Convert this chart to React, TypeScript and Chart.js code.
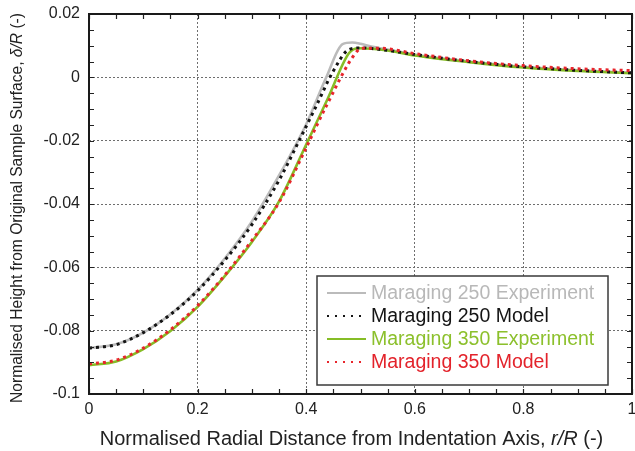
import React, { useEffect, useRef } from 'react';
import { Chart, registerables } from 'chart.js';

Chart.register(...registerables);

const FONT = "'Liberation Sans', Arial, Helvetica, sans-serif";

// Axis ticks
const xMajorStep = 0.2;
const yMajorStep = 0.02;
const xMinorStep = 0.05;
const yMinorStep = 0.005;

// Series data
const m250ExpX = [0, 0.05, 0.1, 0.15, 0.2, 0.25, 0.3, 0.35, 0.4, 0.437, 0.467, 0.485, 0.5, 0.52, 0.55, 0.6, 0.65, 0.7, 0.8, 0.9, 1.0];
const m250ExpY = [-0.0855, -0.0843, -0.0806, -0.0748, -0.0671, -0.0572, -0.0455, -0.031, -0.0148, 0.0, 0.0105, 0.011, 0.0106, 0.0097, 0.0088, 0.0072, 0.006, 0.005, 0.0033, 0.0022, 0.0014];

const m250ModX = [0, 0.05, 0.1, 0.15, 0.2, 0.25, 0.3, 0.35, 0.387, 0.42, 0.448, 0.479, 0.5, 0.55, 0.6, 0.7, 0.8, 0.9, 1.0];
const m250ModY = [-0.0855, -0.0844, -0.0806, -0.0749, -0.0674, -0.0578, -0.0465, -0.0325, -0.02, -0.0085, 0.0014, 0.0088, 0.0093, 0.0085, 0.0072, 0.005, 0.0033, 0.0022, 0.0014];

const m350ExpX = [0, 0.05, 0.1, 0.15, 0.2, 0.25, 0.3, 0.35, 0.4, 0.44, 0.479, 0.497, 0.55, 0.6, 0.7, 0.8, 0.9, 1.0];
const m350ExpY = [-0.0909, -0.0897, -0.0858, -0.0801, -0.0725, -0.0628, -0.052, -0.0392, -0.0212, -0.0066, 0.0077, 0.0092, 0.0085, 0.0069, 0.0048, 0.0031, 0.002, 0.0013];

const m350ModX = [0, 0.05, 0.1, 0.15, 0.2, 0.25, 0.3, 0.35, 0.4, 0.436, 0.491, 0.503, 0.534, 0.6, 0.7, 0.8, 0.9, 1.0];
const m350ModY = [-0.0905, -0.0893, -0.0855, -0.0797, -0.0721, -0.0625, -0.0515, -0.0395, -0.0222, -0.0094, 0.0077, 0.0092, 0.0092, 0.0075, 0.0052, 0.0037, 0.0027, 0.0021];

const seriesLabels = [
  'Maraging 250 Experiment',
  'Maraging 250 Model',
  'Maraging 350 Experiment',
  'Maraging 350 Model',
];
const seriesColors = ['#bbbbbb', '#141414', '#86bd26', '#e8262c'];
const legendTextColors = ['#b8b8b8', '#141414', '#8cc02c', '#e3232b'];

const xTitleParts: [string, boolean][] = [
  ['Normalised Radial Distance from Indentation Axis, ', false],
  ['r/R', true],
  [' (-)', false],
];
const yTitleParts: [string, boolean][] = [
  ['Normalised Height from Original Sample Surface, ', false],
  ['\u03b4/R', true],
  [' (-)', false],
];

function toPoints(xs: number[], ys: number[]) {
  return xs.map((x, i) => ({ x, y: ys[i] }));
}

function drawMixed(ctx: CanvasRenderingContext2D, parts: [string, boolean][], size: number, cx: number, cy: number) {
  const fonts = parts.map(([, it]) => `${it ? 'italic ' : ''}${size}px ${FONT}`);
  let total = 0;
  const widths = parts.map(([t], i) => {
    ctx.font = fonts[i];
    const w = ctx.measureText(t).width;
    total += w;
    return w;
  });
  let x = cx - total / 2;
  ctx.textAlign = 'left';
  ctx.textBaseline = 'middle';
  parts.forEach(([t], i) => {
    ctx.font = fonts[i];
    ctx.fillText(t, x, cy);
    x += widths[i];
  });
}

const decorPlugin = {
  id: 'decor',
  afterDraw(chart: any) {
    const { ctx, chartArea, scales } = chart;
    const { left, right, top, bottom } = chartArea;
    const xs = scales.x;
    const ys = scales.y;
    ctx.save();

    // minor / major inward ticks on all sides
    ctx.strokeStyle = '#222';
    ctx.lineWidth = 1.2;
    ctx.beginPath();
    const nX = Math.round((xs.max - xs.min) / xMinorStep);
    for (let i = 0; i <= nX; i++) {
      const px = Math.round(xs.getPixelForValue(xs.min + i * xMinorStep)) + 0.5;
      ctx.moveTo(px, bottom);
      ctx.lineTo(px, bottom - 5);
      ctx.moveTo(px, top);
      ctx.lineTo(px, top + 5);
    }
    const nY = Math.round((ys.max - ys.min) / yMinorStep);
    for (let i = 0; i <= nY; i++) {
      const py = Math.round(ys.getPixelForValue(ys.min + i * yMinorStep)) + 0.5;
      ctx.moveTo(left, py);
      ctx.lineTo(left + 5, py);
      ctx.moveTo(right, py);
      ctx.lineTo(right - 5, py);
    }
    ctx.stroke();

    // frame
    ctx.strokeStyle = '#1a1a1a';
    ctx.lineWidth = 2;
    ctx.strokeRect(left, top, right - left, bottom - top);

    // legend
    const bx = 317, by = 276, bw = 291, bh = 109;
    ctx.fillStyle = '#ffffff';
    ctx.fillRect(bx, by, bw, bh);
    ctx.strokeStyle = '#3a3a3a';
    ctx.lineWidth = 1.5;
    ctx.strokeRect(bx, by, bw, bh);
    const rowYs = [293, 316, 339, 362];
    chart.data.datasets.forEach((ds: any, i: number) => {
      const yy = rowYs[i];
      ctx.save();
      ctx.strokeStyle = ds.borderColor;
      if (ds.borderDash && ds.borderDash.length) {
        ctx.lineWidth = 2.2;
        ctx.setLineDash([2, 6]);
      } else {
        ctx.lineWidth = 2;
        ctx.setLineDash([]);
      }
      ctx.beginPath();
      ctx.moveTo(327, yy);
      ctx.lineTo(366, yy);
      ctx.stroke();
      ctx.restore();
      ctx.fillStyle = legendTextColors[i];
      ctx.font = `19.5px ${FONT}`;
      ctx.textAlign = 'left';
      ctx.textBaseline = 'middle';
      ctx.fillText(ds.label, 371, yy + 1);
    });

    // axis titles
    ctx.fillStyle = '#222';
    drawMixed(ctx, xTitleParts, 20, (left + right) / 2 - 9, 439);
    ctx.save();
    ctx.translate(18, 208);
    ctx.rotate(-Math.PI / 2);
    drawMixed(ctx, yTitleParts, 15.6, 0, 0);
    ctx.restore();

    ctx.restore();
  },
};

function fmt(v: number) {
  const n = parseFloat(Number(v).toFixed(3));
  return Math.abs(n) < 1e-9 ? '0' : String(n);
}

export default function App() {
  const ref = useRef<HTMLCanvasElement | null>(null);
  useEffect(() => {
    if (!ref.current) return;
    const dashed = [3, 4];
    const chart = new Chart(ref.current, {
      type: 'line',
      data: {
        datasets: [
          {
            label: seriesLabels[0],
            data: toPoints(m250ExpX, m250ExpY),
            borderColor: seriesColors[0],
            borderWidth: 2.6,
            pointRadius: 0,
            cubicInterpolationMode: 'monotone',
            order: 4,
          },
          {
            label: seriesLabels[1],
            data: toPoints(m250ModX, m250ModY),
            borderColor: seriesColors[1],
            borderWidth: 3,
            borderDash: dashed,
            pointRadius: 0,
            cubicInterpolationMode: 'monotone',
            order: 2,
          },
          {
            label: seriesLabels[2],
            data: toPoints(m350ExpX, m350ExpY),
            borderColor: seriesColors[2],
            borderWidth: 2.6,
            pointRadius: 0,
            cubicInterpolationMode: 'monotone',
            order: 3,
          },
          {
            label: seriesLabels[3],
            data: toPoints(m350ModX, m350ModY),
            borderColor: seriesColors[3],
            borderWidth: 3,
            borderDash: dashed,
            pointRadius: 0,
            cubicInterpolationMode: 'monotone',
            order: 1,
          },
        ],
      } as any,
      options: {
        animation: false,
        responsive: false,
        maintainAspectRatio: false,
        layout: { padding: { left: 0, right: 3, top: 14, bottom: 0 } },
        plugins: { legend: { display: false }, tooltip: { enabled: false } },
        scales: {
          x: {
            type: 'linear',
            min: 0,
            max: 1,
            afterFit(scale: any) {
              scale.height = 57;
              scale.paddingLeft = 0;
              scale.paddingRight = 0;
            },
            ticks: {
              stepSize: xMajorStep,
              padding: 6,
              color: '#222',
              font: { family: FONT, size: 16 },
              maxRotation: 0,
              callback: (v: any) => fmt(v),
            },
            grid: { color: '#6e6e6e', lineWidth: 1, drawTicks: false },
            border: { display: false, dash: [2, 2] },
          },
          y: {
            type: 'linear',
            min: -0.1,
            max: 0.02,
            afterFit(scale: any) {
              scale.width = 89;
              scale.paddingTop = 0;
              scale.paddingBottom = 0;
            },
            ticks: {
              stepSize: yMajorStep,
              padding: 9,
              color: '#222',
              font: { family: FONT, size: 16 },
              callback: (v: any) => fmt(v),
            },
            grid: { color: '#6e6e6e', lineWidth: 1, drawTicks: false },
            border: { display: false, dash: [2, 2] },
          },
        },
      } as any,
      plugins: [decorPlugin],
    });
    return () => chart.destroy();
  }, []);
  return (
    <div style={{ position: 'fixed', left: 0, top: 0, width: 635, height: 451, background: '#fff' }}>
      <canvas ref={ref} width={635} height={451} style={{ display: 'block' }} />
    </div>
  );
}
